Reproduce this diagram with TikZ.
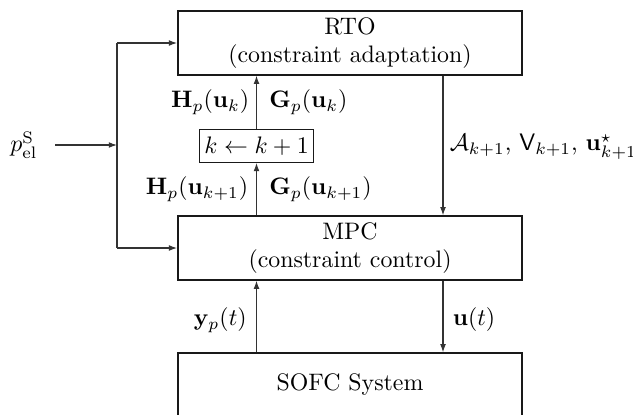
\documentclass[tikz,border=0pt]{standalone}
\usepackage{amsmath,amssymb}
\usetikzlibrary{arrows.meta}
\begin{document}
\begin{tikzpicture}[x=0.4193pt,y=-0.4193pt,
  block/.style={draw=black!90,line width=0.8pt,minimum width=144.2pt,
    minimum height=26.6pt,align=center,inner sep=0pt},
  counter/.style={draw=black!90,line width=0.4pt,inner sep=2pt,minimum height=13.8pt},
  flow/.style={draw=black!80,line width=0.45pt,-{Latex[length=3.4pt,width=2.4pt]}},
  wire/.style={draw=black!80,line width=0.45pt},
  lbl/.style={inner sep=1pt}]
\clip (0,0) rectangle (633,414);

% blocks
\node[block] (rto)  at (350,43)  {RTO\\(constraint adaptation)};
\node[block] (mpc)  at (350,248) {MPC\\(constraint control)};
\node[block] (sofc) at (350,385) {SOFC System};
\node[counter] (kinc) at (256.5,146) {$k \leftarrow k+1$};

% set-point input and its branch
\node (pel) at (24,145) {$p_{\mathrm{el}}^{\mathrm{S}}$};
\coordinate (split) at (117,145);
\coordinate (rcol) at (443,0);

\draw[flow] ([xshift=3.8pt]pel.east) -- (split);
\draw[wire] (split |- rto.west) -- (split |- mpc.west);
\draw[flow] (split |- rto.west) -- (rto.west);
\draw[flow] (split |- mpc.west) -- (mpc.west);

% measured plant data passed up to the optimiser
\draw[flow] (kinc.north) -- (kinc.north |- rto.south);
\draw[flow] (kinc.south |- mpc.north) -- (kinc.south);
\draw[flow] (kinc.south |- sofc.north) -- (kinc.south |- mpc.south);

% optimiser output and control input
\draw[flow] (rcol |- rto.south) -- (rcol |- mpc.north);
\draw[flow] (rcol |- mpc.south) -- (rcol |- sofc.north);

% signal labels
\node[lbl,anchor=east] (hk)  at (252,102) {$\mathbf{H}_p(\mathbf{u}_k)$};
\node[lbl,anchor=west] (gk)  at (266.5,102) {$\mathbf{G}_p(\mathbf{u}_k)$};
\node[lbl,anchor=east] (hk1) at (251,189) {$\mathbf{H}_p(\mathbf{u}_{k+1})$};
\node[lbl,anchor=west] (gk1) at (266.5,189) {$\mathbf{G}_p(\mathbf{u}_{k+1})$};
\node[lbl,anchor=west] (upd) at (447,147)
  {$\mathcal{A}_{k+1}$, $\mathsf{V}_{k+1}$, $\mathbf{u}_{k+1}^{\star}$};
\node[lbl,anchor=east] (yp) at (249.5,320) {$\mathbf{y}_p(t)$};
\node[lbl,anchor=west] (ut) at (450,320) {$\mathbf{u}(t)$};
\end{tikzpicture}
\end{document}
